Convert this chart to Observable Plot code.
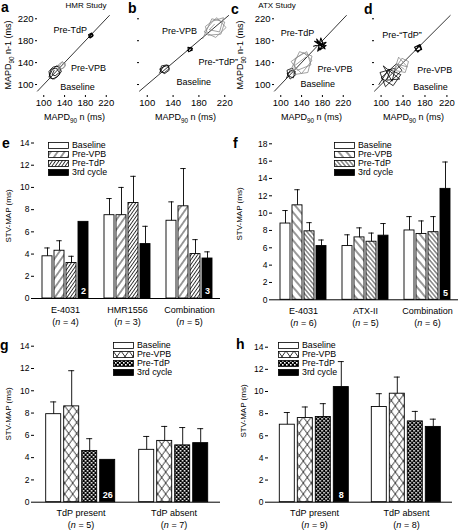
<!DOCTYPE html>
<html><head><meta charset="utf-8">
<script src="https://cdn.jsdelivr.net/npm/d3@7"></script>
<script src="https://cdn.jsdelivr.net/npm/@observablehq/plot@0.6"></script>
<style>
body{margin:0;background:#fff;font-family:"Liberation Sans",Arial,Helvetica,sans-serif;}
#root{position:relative;width:463px;height:532px;overflow:hidden;background:#fff;}
.letter{position:absolute;font-weight:bold;font-size:14px;line-height:1;}
.title{position:absolute;font-size:8px;line-height:1;transform:translateX(-50%);white-space:nowrap;}
.legend{position:absolute;font-size:8.8px;line-height:9px;}
.legend .row{display:flex;align-items:center;height:9px;white-space:nowrap;}
.legend svg{margin-right:3px;display:block;}
</style></head>
<body>
<svg width="0" height="0" style="position:absolute">
<defs>
  <pattern id="eVPB" patternUnits="userSpaceOnUse" width="5.6" height="8" patternTransform="rotate(35)">
    <rect width="5.6" height="8" fill="white"/><line x1="2.8" y1="0" x2="2.8" y2="8" stroke="black" stroke-width="0.8"/>
  </pattern>
  <pattern id="eTdP" patternUnits="userSpaceOnUse" width="2.7" height="8" patternTransform="rotate(35)">
    <rect width="2.7" height="8" fill="white"/><line x1="1.35" y1="0" x2="1.35" y2="8" stroke="black" stroke-width="0.8"/>
  </pattern>
  <pattern id="fVPB" patternUnits="userSpaceOnUse" width="6" height="8" patternTransform="rotate(-40)">
    <rect width="6" height="8" fill="white"/><line x1="3" y1="0" x2="3" y2="8" stroke="black" stroke-width="0.8"/>
  </pattern>
  <pattern id="fTdP" patternUnits="userSpaceOnUse" width="3.2" height="8" patternTransform="rotate(-40)">
    <rect width="3.2" height="8" fill="white"/><line x1="1.6" y1="0" x2="1.6" y2="8" stroke="black" stroke-width="0.8"/>
  </pattern>
  <pattern id="gVPB" patternUnits="userSpaceOnUse" width="8" height="11">
    <rect width="8" height="11" fill="white"/>
    <line x1="0" y1="0" x2="8" y2="11" stroke="black" stroke-width="0.8"/>
    <line x1="8" y1="0" x2="0" y2="11" stroke="black" stroke-width="0.8"/>
  </pattern>
  <pattern id="gTdP" patternUnits="userSpaceOnUse" width="4" height="4">
    <rect width="4" height="4" fill="black"/>
    <rect x="0" y="0" width="1.6" height="1.6" fill="white"/>
    <rect x="2" y="2" width="1.6" height="1.6" fill="white"/>
  </pattern>
</defs></svg>
<div id="root"></div>
<script>
const FONT = "Liberation Sans, Arial, Helvetica, sans-serif";
const root = document.getElementById("root");
const series = ["Baseline", "Pre-VPB", "Pre-TdP", "3rd cycle"];

// ---------- Poincaré panels (MAPD90 n vs n-1, ms) ----------
const axisTicks = [100, 140, 180, 220];
const aBaseline = [[110,114],[116,126],[124,134],[132,130],[130,118],[120,110],[112,112],[110,124],[118,132],[128,134],[134,124],[126,114],[116,110],[111,118],[114,128],[124,130],[130,122],[122,116],[116,118],[120,126]];
const aPreVPB = [[126,128],[134,140],[142,138],[138,130],[130,128],[128,136],[136,142],[142,134],[134,128],[128,132]];
const aPreTdP = [[186,186],[192,193],[194,188],[189,185],[186,191],[192,194],[195,190],[188,186]];
const bBaseline = [[119,121],[125,133],[133,135],[134,126],[127,120],[120,124],[122,134],[131,136],[134,129],[126,121],[119,128],[128,134]];
const bPreTdP = [[162,162],[168,168],[170,163],[164,160],[163,168],[170,166],[166,161]];
const bPreVPB = [[186,184],[200,220],[220,214],[214,192],[194,190],[190,206],[208,222],[222,204],[206,186],[188,196],[202,216],[218,222],[212,196],[196,200],[204,210]];
const cBaseline = [[111,112],[118,126],[128,124],[124,112],[114,116],[112,126],[122,130],[129,118],[118,110],[112,120],[120,124]];
const cPreVPB = [[118,124],[136,160],[160,152],[152,122],[124,118],[128,148],[150,160],[158,136],[132,126],[120,142],[144,158],[160,144],[140,120],[126,134],[148,150]];
const cPreTdP = [[163,170],[187,177],[171,161],[177,185],[185,165],[165,179],[187,171],[175,163],[169,183],[181,169],[175,175]];
const dBaseline = [[96,100],[114,128],[136,118],[122,98],[100,112],[128,138],[138,126],[108,96],[98,122],[126,130],[120,106],[104,134],[134,110],[110,108],[116,124]];
const dPreVPB = [[120,120],[138,148],[150,142],[144,122],[124,126],[132,150],[148,132],[128,138],[142,128]];
const dPreTdP = [[162,162],[169,171],[173,165],[167,159],[161,168],[171,173],[174,164],[165,161]];
const aLabels = [{t:"Pre-TdP", x:151, y:199}, {t:"Pre-VPB", x:186, y:130}, {t:"Baseline", x:165, y:95}];
const bLabels = [{t:"Pre-VPB", x:150, y:197}, {t:"Pre-\u201CTdP\u201D", x:210, y:141}, {t:"Baseline", x:172, y:105}];
const cLabels = [{t:"Pre-TdP", x:132, y:193}, {t:"Pre-VPB", x:204, y:129}, {t:"Baseline", x:171, y:101}];
const dLabels = [{t:"Pre-\u201CTdP\u201D", x:138, y:190}, {t:"Pre-VPB", x:198, y:126}, {t:"Baseline", x:190, y:96}];

// ---------- STV-MAP bar panels ----------
const eGroups = ["E-4031", "HMR1556", "Combination"], eN = [4, 3, 5];
const eBaseline = [3.8, 7.5, 7.0], eBaselineSD = [0.75, 1.5, 1.7];
const ePreVPB = [4.3, 7.5, 8.3], ePreVPBSD = [0.9, 2.5, 3.4];
const ePreTdP = [3.2, 8.6, 4.0], ePreTdPSD = [0.6, 2.4, 1.3];
const e3rd = [6.9, 4.9, 3.6], e3rdSD = [null, 1.6, 0.6];
const eCounts = ["2", null, "3"];

const fGroups = ["E-4031", "ATX-II", "Combination"], fN = [6, 5, 6];
const fBaseline = [8.8, 6.2, 8.0], fBaselineSD = [1.5, 1.3, 1.6];
const fPreVPB = [10.9, 7.2, 7.6], fPreVPBSD = [1.8, 1.1, 1.5];
const fPreTdP = [7.9, 6.7, 7.8], fPreTdPSD = [1.0, 1.0, 1.8];
const f3rd = [6.2, 7.4, 12.8], f3rdSD = [0.7, 1.4, 3.1];
const fCounts = [null, null, "5"];

const gGroups = ["TdP present", "TdP absent"], gN = [5, 7];
const gBaseline = [7.9, 4.7], gBaselineSD = [1.1, 1.2];
const gPreVPB = [8.6, 5.5], gPreVPBSD = [3.2, 1.3];
const gPreTdP = [4.6, 5.1], gPreTdPSD = [1.1, 1.6];
const g3rd = [3.8, 5.3], g3rdSD = [null, 1.3];
const gCounts = ["26", null];

const hGroups = ["TdP present", "TdP absent"], hN = [9, 8];
const hBaseline = [7.0, 8.6], hBaselineSD = [1.1, 1.2];
const hPreVPB = [7.6, 9.8], hPreVPBSD = [1.0, 1.5];
const hPreTdP = [7.7, 7.3], hPreTdPSD = [1.2, 0.9];
const h3rd = [10.4, 6.8], h3rdSD = [2.3, 0.7];
const hCounts = ["8", null];

const svgNS = "http://www.w3.org/2000/svg";
function place(el, left, top) {
  el.style.position = "absolute"; el.style.left = left + "px"; el.style.top = top + "px";
  el.style.overflow = "visible"; el.style.background = "transparent";
  root.appendChild(el);
}
function subLabel(svg, x, y, rotate, pre, sub, post, size) {
  const t = d3.select(svg).append("text")
    .attr("transform", `translate(${x},${y})` + (rotate ? " rotate(-90)" : ""))
    .attr("text-anchor", "middle").attr("font-size", size).attr("fill", "black").attr("font-family", FONT);
  t.append("tspan").text(pre);
  if (sub) {
    t.append("tspan").attr("font-size", size * 0.7).attr("dy", size * 0.3).text(sub);
    t.append("tspan").attr("dy", -size * 0.3).text(post);
  }
}

function poincare(o) {
  const lo = Math.max(o.xdom[0], o.ydom[0]), hi = Math.min(o.xdom[1], o.ydom[1]);
  const clusters = [
    {pts: o.base, stroke: "black", w: 0.8},
    {pts: o.vpb, stroke: "#8a8a8a", w: 0.8},
    {pts: o.tdp, stroke: "black", w: 1.1}
  ];
  const svg = Plot.plot({
    width: o.width, height: o.height,
    marginLeft: o.mL, marginRight: o.mR, marginTop: o.mT, marginBottom: o.mB,
    style: {fontFamily: FONT, fontSize: "9.5px", color: "black", background: "transparent", overflow: "visible"},
    x: {domain: o.xdom}, y: {domain: o.ydom},
    marks: [
      Plot.line([lo, hi], {x: d => d, y: d => d, stroke: "black", strokeWidth: 0.8}),
      ...clusters.map(c => Plot.line(c.pts, {x: d => d[0], y: d => d[1], stroke: c.stroke, strokeWidth: c.w})),
      Plot.text(o.labels, {x: "x", y: "y", text: "t", fontSize: 9, fill: "black"}),
      Plot.axisX({ticks: axisTicks, tickSize: 2, tickPadding: 2, fontSize: 9.5, label: null, line: true}),
      Plot.axisY({ticks: axisTicks, tickSize: 2, tickPadding: 2, fontSize: 9.5, label: null, line: true,
        tickFormat: o.yLabels ? (d => d) : (() => "")})
    ]
  });
  const fw = o.width - o.mL - o.mR;
  subLabel(svg, o.mL + fw / 2, o.height - 5, false, "MAPD", "90", " n (ms)", 9);
  if (o.yLabels) subLabel(svg, o.yLabelX, 55 - o.top, true, "MAPD", "90", " n-1 (ms)", 9);
  place(svg, o.left, o.top);
}

const xdom = [88, 232], ydom = [80, 226];
poincare({left: 0, top: 0, width: 116, height: 125, mL: 37, mR: 4, mT: 15, mB: 30, xdom, ydom,
  base: aBaseline, vpb: aPreVPB, tdp: aPreTdP, labels: aLabels, yLabels: true, yLabelX: 11});
poincare({left: 116, top: 0, width: 116, height: 125, mL: 23, mR: 0, mT: 15, mB: 30, xdom, ydom,
  base: bBaseline, vpb: bPreVPB, tdp: bPreTdP, labels: bLabels, yLabels: false});
poincare({left: 232, top: 0, width: 118, height: 125, mL: 42, mR: 1, mT: 15, mB: 30, xdom, ydom,
  base: cBaseline, vpb: cPreVPB, tdp: cPreTdP, labels: cLabels, yLabels: true, yLabelX: 11});
poincare({left: 350, top: 0, width: 113, height: 125, mL: 24, mR: 10, mT: 15, mB: 30, xdom, ydom,
  base: dBaseline, vpb: dPreVPB, tdp: dPreTdP, labels: dLabels, yLabels: false});

function barPanel(o) {
  const rows = [];
  o.groups.forEach((g, gi) => series.forEach((s, si) => rows.push({
    group: g, series: s, mean: o.means[si][gi], sd: o.sds[si][gi], count: si === 3 ? o.counts[gi] : null
  })));
  const nOf = new Map(o.groups.map((g, i) => [g, o.ns[i]]));
  const svg = Plot.plot({
    width: o.width, height: o.height,
    marginLeft: o.mL, marginRight: o.mR, marginTop: o.mT, marginBottom: o.mB,
    style: {fontFamily: FONT, fontSize: "8.5px", color: "black", background: "transparent", overflow: "visible"},
    facet: {data: rows, x: "group"},
    fx: {domain: o.groups, padding: 0, label: null},
    x: {domain: series, paddingInner: o.pi, paddingOuter: o.po, axis: null},
    y: {domain: [0, o.ymax], label: null},
    color: {domain: series, range: o.fills},
    marks: [
      Plot.barY(rows, {x: "series", y: "mean", fill: "series", stroke: "black", strokeWidth: 0.9}),
      Plot.ruleX(rows, {filter: d => d.sd != null, x: "series", y1: "mean", y2: d => d.mean + d.sd, stroke: "black", strokeWidth: 0.9}),
      Plot.tickY(rows, {filter: d => d.sd != null, x: "series", y: d => d.mean + d.sd, stroke: "black", strokeWidth: 0.9, insetLeft: o.cap, insetRight: o.cap}),
      Plot.text(rows, {filter: d => d.count, x: "series", y: 0, text: "count", dy: -7, fill: "white", fontWeight: "bold", fontSize: 9}),
      Plot.ruleY([0], {stroke: "black", strokeWidth: 1}),
      Plot.axisY({ticks: d3.range(0, o.ymax + 1, 2), tickSize: 3, tickPadding: 2, fontSize: 8.5, label: null, line: true}),
      Plot.axisFx({anchor: "bottom", tickSize: 0, tickPadding: 6, fontSize: 9, lineHeight: 1.3, label: null,
        tickFormat: g => `${g}\n(n = ${nOf.get(g)})`})
    ]
  });
  // italic n in group labels
  svg.querySelectorAll("text, tspan").forEach(node => {
    if (node.children.length) return;
    const m = /^\(n = (\d+)\)$/.exec(node.textContent);
    if (!m) return;
    node.textContent = "";
    node.append("(");
    const it = document.createElementNS(svgNS, "tspan");
    it.setAttribute("font-style", "italic"); it.textContent = "n";
    node.append(it); node.append(` = ${m[1]})`);
  });
  subLabel(svg, o.yLabelX, o.yLabelY - o.top, true, "STV-MAP (ms)", null, null, 8);
  place(svg, o.left, o.top);
  // legend
  const lg = document.createElement("div");
  lg.className = "legend"; lg.style.left = o.legend[0] + "px"; lg.style.top = o.legend[1] + "px";
  lg.innerHTML = series.map((s, i) =>
    `<div class="row"><svg width="21" height="7"><rect x="0.5" y="0.5" width="20" height="6" fill="${o.fills[i]}" stroke="black" stroke-width="0.8"/></svg><span>${s}</span></div>`).join("");
  root.appendChild(lg);
}

barPanel({left: 0, top: 135, width: 231, height: 200, mL: 33, mR: 11, mT: 7.5, mB: 37,
  groups: eGroups, ns: eN, means: [eBaseline, ePreVPB, ePreTdP, e3rd], sds: [eBaselineSD, ePreVPBSD, ePreTdPSD, e3rdSD],
  counts: eCounts, ymax: 14, pi: 0.15, po: 0.59, cap: 2.3,
  fills: ["white", "url(#eVPB)", "url(#eTdP)", "black"], yLabelX: 11, yLabelY: 216, legend: [48, 141]});
barPanel({left: 231, top: 135, width: 232, height: 200, mL: 40, mR: 5, mT: 8.3, mB: 35.7,
  groups: fGroups, ns: fN, means: [fBaseline, fPreVPB, fPreTdP, f3rd], sds: [fBaselineSD, fPreVPBSD, fPreTdPSD, f3rdSD],
  counts: fCounts, ymax: 18, pi: 0.15, po: 0.55, cap: 2.3,
  fills: ["white", "url(#fVPB)", "url(#fTdP)", "black"], yLabelX: 11, yLabelY: 214, legend: [334, 141]});
barPanel({left: 0, top: 340, width: 231, height: 192, mL: 33.3, mR: 11, mT: 5.7, mB: 30.3,
  groups: gGroups, ns: gN, means: [gBaseline, gPreVPB, gPreTdP, g3rd], sds: [gBaselineSD, gPreVPBSD, gPreTdPSD, g3rdSD],
  counts: gCounts, ymax: 14, pi: 0.14, po: 0.54, cap: 4.5,
  fills: ["white", "url(#gVPB)", "url(#gTdP)", "black"], yLabelX: 11, yLabelY: 414, legend: [113, 341]});
barPanel({left: 231, top: 340, width: 232, height: 192, mL: 36.7, mR: 11, mT: 6.7, mB: 30.3,
  groups: hGroups, ns: hN, means: [hBaseline, hPreVPB, hPreTdP, h3rd], sds: [hBaselineSD, hPreVPBSD, hPreTdPSD, h3rdSD],
  counts: hCounts, ymax: 14, pi: 0.18, po: 0.52, cap: 4.5,
  fills: ["white", "url(#gVPB)", "url(#gTdP)", "black"], yLabelX: 15, yLabelY: 411, legend: [278, 341]});

// panel letters and study titles
[["a", 1, 0], ["b", 128, 1], ["c", 231, 2], ["d", 364, 2], ["e", 2, 136], ["f", 233, 136], ["g", 0, 338], ["h", 236, 337]]
  .forEach(([t, x, y]) => { const d = document.createElement("div"); d.className = "letter"; d.textContent = t; d.style.left = x + "px"; d.style.top = y + "px"; root.appendChild(d); });
[["HMR Study", 86, 2], ["ATX Study", 277, 2]].forEach(([t, x, y]) => {
  const d = document.createElement("div"); d.className = "title"; d.textContent = t; d.style.left = x + "px"; d.style.top = y + "px"; root.appendChild(d);
});
</script>
</body></html>
